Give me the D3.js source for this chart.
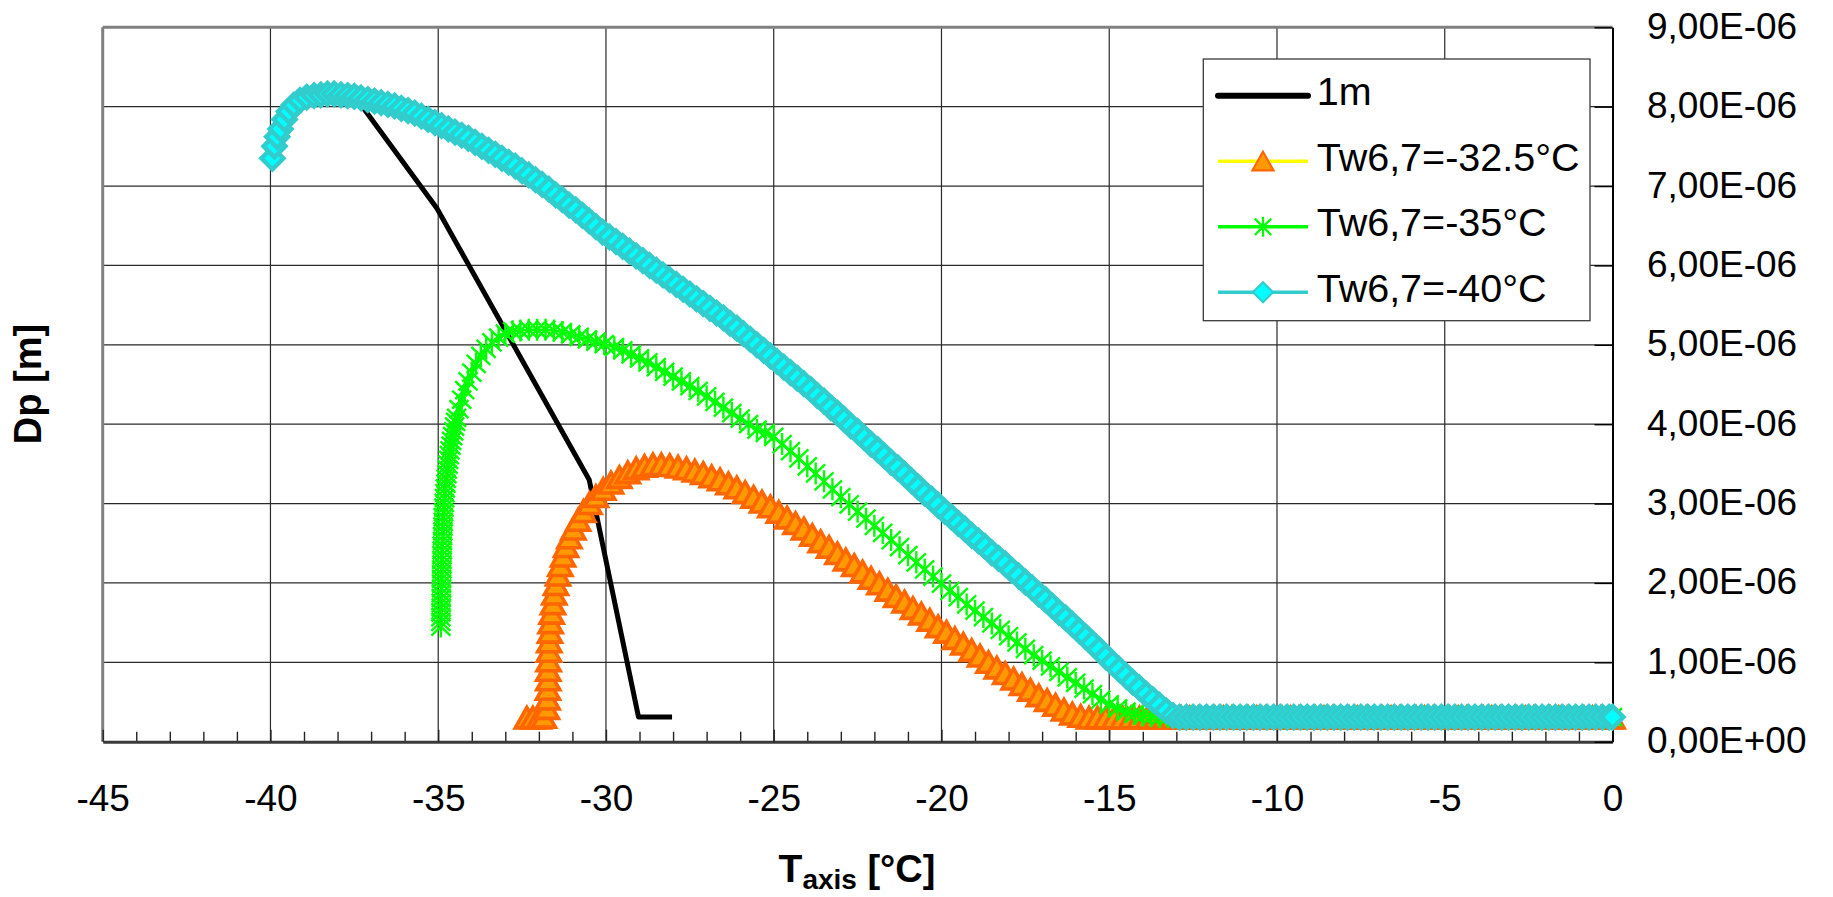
<!DOCTYPE html>
<html>
<head>
<meta charset="utf-8">
<script src="https://cdn.jsdelivr.net/npm/d3@7"></script>
<style>
  html, body { margin: 0; padding: 0; background: #fff; }
  svg { display: block; }
  text { font-family: "Liberation Sans", Arial, sans-serif; fill: #000; }
</style>
</head>
<body>
<svg id="chart" width="1833" height="897"></svg>
<script>
// Particle diameter Dp (in units of 1e-6 m) against axis temperature T (°C)

const seriesNames = ["1m", "Tw6,7=-32.5°C", "Tw6,7=-35°C", "Tw6,7=-40°C"];

const xMajorTicks = [-45, -40, -35, -30, -25, -20, -15, -10, -5, 0];
const xMinorTicks = d3.range(-45, 1).filter(v => v % 5 !== 0);
const yTicks = [0, 1, 2, 3, 4, 5, 6, 7, 8, 9];

// "1m" reference line
const line1m = [[-37.4, 8.08], [-35.04, 6.72], [-30.5, 3.30], [-29.03, 0.31], [-28.03, 0.31]];

// Tw6,7 = -32.5 °C
const tw325 = [
  [-32.36,0.30],[-32.18,0.30],[-32.0,0.30],[-31.85,0.31],[-31.76,0.42],[-31.74,0.54],[-31.73,0.66],
  [-31.72,0.78],[-31.72,0.90],[-31.71,1.02],[-31.70,1.14],[-31.69,1.26],[-31.67,1.38],[-31.65,1.50],
  [-31.62,1.62],[-31.58,1.74],[-31.54,1.86],[-31.49,1.98],[-31.43,2.10],[-31.36,2.22],[-31.28,2.34],
  [-31.19,2.46],[-31.09,2.57],[-30.97,2.68],[-30.83,2.79],[-30.67,2.90],[-30.49,3.00],[-30.30,3.09],
  [-30.08,3.18],[-29.85,3.26],[-29.60,3.33],[-29.35,3.39],[-29.10,3.44],[-28.85,3.47],[-28.60,3.49],
  [-28.35,3.49],[-28.10,3.48],[-27.85,3.46],[-27.60,3.44],[-27.35,3.41],[-27.10,3.38],[-26.85,3.34],
  [-26.60,3.30],[-26.35,3.25],[-26.10,3.20],[-25.85,3.14],[-25.60,3.08],[-25.35,3.02],[-25.10,2.96],
  [-24.85,2.89],[-24.60,2.82],[-24.35,2.75],[-24.10,2.68],[-23.85,2.60],[-23.60,2.52],[-23.35,2.45],
  [-23.10,2.37],[-22.85,2.29],[-22.60,2.22],[-22.35,2.14],[-22.10,2.06],[-21.85,1.99],[-21.60,1.91],
  [-21.35,1.83],[-21.10,1.76],[-20.85,1.68],[-20.60,1.61],[-20.35,1.53],[-20.10,1.45],[-19.85,1.38],
  [-19.60,1.30],[-19.35,1.23],[-19.10,1.15],[-18.85,1.08],[-18.60,1.00],[-18.35,0.93],[-18.10,0.86],
  [-17.85,0.79],[-17.60,0.72],[-17.35,0.65],[-17.10,0.58],[-16.85,0.52],[-16.60,0.46],[-16.35,0.40],
  [-16.10,0.35],[-15.85,0.32],[-15.60,0.30],
  [-15.35,0.30],[-15.1,0.30],[-14.85,0.30],[-14.6,0.30],[-14.35,0.30],[-14.1,0.30],[-13.85,0.30],
  [-13.6,0.30],[-13.35,0.30],[-13.1,0.30],[-12.85,0.30],[-12.6,0.30],[-12.35,0.30],[-12.1,0.30],
  [-11.85,0.30],[-11.6,0.30],[-11.35,0.30],[-11.1,0.30],[-10.85,0.30],[-10.6,0.30],[-10.35,0.30],
  [-10.1,0.30],[-9.85,0.30],[-9.6,0.30],[-9.35,0.30],[-9.1,0.30],[-8.85,0.30],[-8.6,0.30],
  [-8.35,0.30],[-8.1,0.30],[-7.85,0.30],[-7.6,0.30],[-7.35,0.30],[-7.1,0.30],[-6.85,0.30],
  [-6.6,0.30],[-6.35,0.30],[-6.1,0.30],[-5.85,0.30],[-5.6,0.30],[-5.35,0.30],[-5.1,0.30],
  [-4.85,0.30],[-4.6,0.30],[-4.35,0.30],[-4.1,0.30],[-3.85,0.30],[-3.6,0.30],[-3.35,0.30],
  [-3.1,0.30],[-2.85,0.30],[-2.6,0.30],[-2.35,0.30],[-2.1,0.30],[-1.85,0.30],[-1.6,0.30],
  [-1.35,0.30],[-1.1,0.30],[-0.85,0.30],[-0.6,0.30],[-0.35,0.30],[-0.1,0.30],[0,0.30]
];

// Tw6,7 = -35 °C
const tw35 = [
  [-34.92,1.45],[-34.92,1.51],[-34.92,1.57],[-34.92,1.63],[-34.91,1.69],[-34.91,1.75],[-34.91,1.81],
  [-34.91,1.87],[-34.90,1.93],[-34.90,1.99],[-34.90,2.05],[-34.90,2.11],[-34.89,2.17],[-34.89,2.23],
  [-34.89,2.29],[-34.89,2.35],[-34.88,2.41],[-34.88,2.47],[-34.87,2.53],[-34.87,2.59],[-34.86,2.65],
  [-34.86,2.71],[-34.85,2.77],[-34.85,2.83],[-34.84,2.89],[-34.83,2.95],[-34.82,3.01],[-34.81,3.07],
  [-34.80,3.13],[-34.79,3.19],[-34.77,3.25],[-34.76,3.31],[-34.74,3.37],[-34.73,3.43],[-34.71,3.49],
  [-34.69,3.55],[-34.67,3.61],[-34.65,3.67],[-34.62,3.73],[-34.60,3.79],[-34.57,3.85],[-34.54,3.91],
  [-34.51,3.97],[-34.48,4.03],[-34.45,4.08],[-34.38,4.19],[-34.30,4.31],[-34.21,4.43],[-34.11,4.54],
  [-34.00,4.65],[-33.87,4.76],[-33.73,4.86],[-33.57,4.95],[-33.40,5.03],[-33.20,5.09],[-33.00,5.14],
  [-32.78,5.17],[-32.55,5.18],[-32.30,5.19],[-32.05,5.19],[-31.80,5.19],[-31.55,5.18],[-31.30,5.16],
  [-31.05,5.13],[-30.80,5.10],[-30.55,5.07],[-30.30,5.04],[-30.05,5.01],[-29.75,4.97],[-29.50,4.93],
  [-29.25,4.88],[-29.00,4.83],[-28.75,4.78],[-28.50,4.72],[-28.25,4.66],[-28.00,4.60],[-27.75,4.54],
  [-27.50,4.48],[-27.25,4.42],[-27.00,4.35],[-26.75,4.28],[-26.50,4.21],[-26.25,4.14],[-26.00,4.07],
  [-25.75,4.00],[-25.50,3.93],[-25.25,3.89],[-25.00,3.84],[-24.75,3.75],[-24.50,3.66],[-24.25,3.57],
  [-24.00,3.47],[-23.75,3.38],[-23.50,3.28],[-23.25,3.18],[-23.00,3.08],[-22.75,2.99],[-22.50,2.90],
  [-22.25,2.81],[-22.00,2.72],[-21.75,2.63],[-21.50,2.54],[-21.25,2.45],[-21.00,2.35],[-20.75,2.26],
  [-20.50,2.17],[-20.25,2.08],[-20.00,1.99],[-19.75,1.90],[-19.50,1.82],[-19.25,1.73],[-19.00,1.65],
  [-18.75,1.57],[-18.50,1.49],[-18.25,1.41],[-18.00,1.33],[-17.75,1.25],[-17.50,1.17],[-17.25,1.09],
  [-17.00,1.02],[-16.75,0.95],[-16.50,0.88],[-16.25,0.81],[-16.00,0.74],[-15.75,0.67],[-15.50,0.60],
  [-15.25,0.53],[-15.00,0.47],[-14.75,0.42],[-14.50,0.38],[-14.25,0.35],[-14.00,0.33],[-13.75,0.32],
  [-13.5,0.31],[-13.25,0.31],[-13,0.31],[-12.75,0.31],[-12.5,0.31],[-12.25,0.31],[-12,0.31],
  [-11.75,0.31],[-11.5,0.31],[-11.25,0.31],[-11,0.31],[-10.75,0.31],[-10.5,0.31],[-10.25,0.31],
  [-10,0.31],[-9.75,0.31],[-9.5,0.31],[-9.25,0.31],[-9,0.31],[-8.75,0.31],[-8.5,0.31],
  [-8.25,0.31],[-8,0.31],[-7.75,0.31],[-7.5,0.31],[-7.25,0.31],[-7,0.31],[-6.75,0.31],
  [-6.5,0.31],[-6.25,0.31],[-6,0.31],[-5.75,0.31],[-5.5,0.31],[-5.25,0.31],[-5,0.31],
  [-4.75,0.31],[-4.5,0.31],[-4.25,0.31],[-4,0.31],[-3.75,0.31],[-3.5,0.31],[-3.25,0.31],
  [-3,0.31],[-2.75,0.31],[-2.5,0.31],[-2.25,0.31],[-2,0.31],[-1.75,0.31],[-1.5,0.31],
  [-1.25,0.31],[-1,0.31],[-0.75,0.31],[-0.5,0.31],[-0.25,0.31],[0,0.31]
];

// Tw6,7 = -40 °C
const tw40 = [
  [-39.94,7.35],[-39.88,7.50],[-39.80,7.62],[-39.70,7.72],[-39.58,7.84],[-39.45,7.94],[-39.30,8.02],
  [-39.12,8.08],[-38.92,8.12],[-38.70,8.14],[-38.50,8.15],[-38.30,8.16],[-38.10,8.16],[-37.90,8.15],
  [-37.70,8.14],[-37.50,8.13],[-37.30,8.11],[-37.10,8.09],[-36.90,8.07],[-36.70,8.05],[-36.50,8.03],
  [-36.30,8.01],[-36.10,7.98],[-35.90,7.95],[-35.70,7.92],[-35.50,7.88],[-35.30,7.84],[-35.10,7.80],
  [-34.90,7.76],[-34.70,7.72],[-34.50,7.68],[-34.30,7.64],[-34.10,7.60],[-33.90,7.55],[-33.70,7.50],
  [-33.50,7.45],[-33.30,7.40],[-33.10,7.35],[-32.90,7.30],[-32.70,7.25],[-32.50,7.19],[-32.30,7.14],
  [-32.10,7.08],[-31.90,7.02],[-31.70,6.96],[-31.50,6.89],[-31.30,6.83],[-31.10,6.76],[-30.90,6.70],
  [-30.70,6.63],[-30.50,6.56],[-30.30,6.49],[-30.10,6.42],[-29.90,6.36],[-29.70,6.30],[-29.50,6.24],
  [-29.30,6.18],[-29.10,6.12],[-28.90,6.06],[-28.70,6.00],[-28.50,5.94],[-28.30,5.88],[-28.10,5.82],
  [-27.90,5.76],[-27.70,5.70],[-27.50,5.64],[-27.30,5.58],[-27.10,5.52],[-26.90,5.46],[-26.70,5.40],
  [-26.50,5.34],[-26.30,5.27],[-26.10,5.21],[-25.90,5.14],[-25.70,5.07],[-25.50,5.00],[-25.30,4.93],
  [-25.10,4.86],[-24.90,4.79],[-24.70,4.72],[-24.50,4.65],[-24.30,4.58],[-24.10,4.51],[-23.90,4.44],
  [-23.70,4.36],[-23.50,4.29],[-23.30,4.21],[-23.10,4.14],[-22.90,4.06],[-22.70,3.98],[-22.50,3.91],
  [-22.30,3.83],[-22.10,3.75],[-21.90,3.68],[-21.70,3.60],[-21.50,3.52],[-21.30,3.45],[-21.10,3.37],
  [-20.90,3.29],[-20.70,3.21],[-20.50,3.13],[-20.30,3.06],[-20.10,2.98],[-19.90,2.90],[-19.70,2.83],
  [-19.50,2.75],[-19.30,2.68],[-19.10,2.60],[-18.90,2.53],[-18.70,2.46],[-18.50,2.38],[-18.30,2.31],
  [-18.10,2.24],[-17.90,2.16],[-17.70,2.09],[-17.50,2.01],[-17.30,1.94],[-17.10,1.86],[-16.90,1.79],
  [-16.70,1.71],[-16.50,1.63],[-16.30,1.56],[-16.10,1.48],[-15.90,1.40],[-15.70,1.32],[-15.50,1.24],
  [-15.30,1.16],[-15.10,1.07],[-14.90,0.99],[-14.70,0.91],[-14.50,0.83],[-14.30,0.75],[-14.10,0.68],
  [-13.90,0.60],[-13.70,0.53],[-13.50,0.46],[-13.30,0.39],[-13.10,0.33],
  [-12.9,0.31],[-12.7,0.31],[-12.5,0.31],[-12.3,0.31],[-12.1,0.31],[-11.9,0.31],[-11.7,0.31],
  [-11.5,0.31],[-11.3,0.31],[-11.1,0.31],[-10.9,0.31],[-10.7,0.31],[-10.5,0.31],[-10.3,0.31],
  [-10.1,0.31],[-9.9,0.31],[-9.7,0.31],[-9.5,0.31],[-9.3,0.31],[-9.1,0.31],[-8.9,0.31],
  [-8.7,0.31],[-8.5,0.31],[-8.3,0.31],[-8.1,0.31],[-7.9,0.31],[-7.7,0.31],[-7.5,0.31],
  [-7.3,0.31],[-7.1,0.31],[-6.9,0.31],[-6.7,0.31],[-6.5,0.31],[-6.3,0.31],[-6.1,0.31],
  [-5.9,0.31],[-5.7,0.31],[-5.5,0.31],[-5.3,0.31],[-5.1,0.31],[-4.9,0.31],[-4.7,0.31],
  [-4.5,0.31],[-4.3,0.31],[-4.1,0.31],[-3.9,0.31],[-3.7,0.31],[-3.5,0.31],[-3.3,0.31],
  [-3.1,0.31],[-2.9,0.31],[-2.7,0.31],[-2.5,0.31],[-2.3,0.31],[-2.1,0.31],[-1.9,0.31],
  [-1.7,0.31],[-1.5,0.31],[-1.3,0.31],[-1.1,0.31],[-0.9,0.31],[-0.7,0.31],[-0.5,0.31],
  [-0.3,0.31],[-0.1,0.31],[0,0.31]
];

// ---------- layout ----------
const plot = { left: 102.7, right: 1612.5, top: 27.3, bottom: 741.7 };
const svg = d3.select("#chart");

const x = d3.scaleLinear().domain([-45, 0]).range([plot.left, plot.right]);
const y = d3.scaleLinear().domain([0, 9]).range([plot.bottom, plot.top]);

// Excel-style scientific label, e.g. 9,00E-06
function sciLabel(v) {
  const s = (v * 1e-6).toExponential(2);
  const [m, e] = s.split("e");
  const ev = parseInt(e, 10);
  const es = (ev < 0 ? "-" : "+") + String(Math.abs(ev)).padStart(2, "0");
  return m.replace(".", ",") + "E" + es;
}

// ---------- grid ----------
const grid = svg.append("g");
grid.selectAll("line.v")
  .data(xMajorTicks.filter(t => t > -45 && t < 0))
  .join("line")
  .attr("x1", d => x(d)).attr("x2", d => x(d))
  .attr("y1", plot.top).attr("y2", plot.bottom)
  .attr("stroke", "#2a2a2a").attr("stroke-width", 1.2);
grid.selectAll("line.h")
  .data(yTicks.filter(t => t > 0 && t < 9))
  .join("line")
  .attr("x1", plot.left).attr("x2", plot.right)
  .attr("y1", d => y(d)).attr("y2", d => y(d))
  .attr("stroke", "#2a2a2a").attr("stroke-width", 1.3);

// plot frame (top and left)
svg.append("line")
  .attr("x1", plot.left).attr("x2", plot.right)
  .attr("y1", plot.top).attr("y2", plot.top)
  .attr("stroke", "#808080").attr("stroke-width", 3);
svg.append("line")
  .attr("x1", plot.left).attr("x2", plot.left)
  .attr("y1", plot.top).attr("y2", plot.bottom)
  .attr("stroke", "#808080").attr("stroke-width", 3);

// ---------- axes ----------
const xMinorAxis = d3.axisBottom(x).tickValues(xMinorTicks)
  .tickSizeInner(-10).tickSizeOuter(0).tickFormat("");
const gxm = svg.append("g").attr("transform", `translate(0,${plot.bottom})`).call(xMinorAxis);
gxm.select(".domain").remove();
gxm.selectAll(".tick line").attr("stroke", "#222").attr("stroke-width", 1.4);

const xAxis = d3.axisBottom(x).tickValues(xMajorTicks)
  .tickSizeInner(-12).tickSizeOuter(0).tickPadding(0)
  .tickFormat(d => String(d));
const gx = svg.append("g").attr("transform", `translate(0,${plot.bottom})`).call(xAxis);
gx.select(".domain").attr("stroke", "#3a3a3a").attr("stroke-width", 3);
gx.selectAll(".tick line").attr("stroke", "#222").attr("stroke-width", 1.4);
gx.selectAll(".tick text")
  .attr("dy", null).attr("y", 56.6)
  .attr("dominant-baseline", "central")
  .attr("font-size", 37).attr("fill", "#000")
  .style("font-family", "'Liberation Sans', Arial, sans-serif");

const yAxis = d3.axisRight(y).tickValues(yTicks)
  .tickSizeInner(-18).tickSizeOuter(0).tickPadding(34.5)
  .tickFormat(sciLabel);
const gy = svg.append("g").attr("transform", `translate(${plot.right},0)`).call(yAxis);
gy.select(".domain").attr("stroke", "#000").attr("stroke-width", 2);
gy.selectAll(".tick line").attr("stroke", "#000").attr("stroke-width", 1.4);
gy.selectAll(".tick text")
  .attr("dy", null).attr("y", -1.5)
  .attr("dominant-baseline", "central")
  .attr("font-size", 37).attr("fill", "#000")
  .style("font-family", "'Liberation Sans', Arial, sans-serif");

// ---------- markers ----------
// plot markers and the smaller legend swatches
const markerPath = {
  triangle: "M0,-10.5L11.5,10L-11.5,10Z",
  asterisk: "M0,-11V11M-9.5,-9L9.5,9M-9.5,9L9.5,-9",
  diamond: "M0,-11L11,0L0,11L-11,0Z"
};
const legendMarkerPath = {
  triangle: "M0,-9.5L10.5,9L-10.5,9Z",
  asterisk: "M0,-10V10M-8.2,-8.2L8.2,8.2M-8.2,8.2L8.2,-8.2",
  diamond: "M0,-10L10,0L0,10L-10,0Z"
};

const seriesStyle = [
  { data: line1m, line: "#000000", lineWidth: 5, marker: null },
  { data: tw325, line: "#FFFF00", lineWidth: 2.5, marker: "triangle", fill: "#FF9900", stroke: "#FF6600", sw: 3.6 },
  { data: tw35, line: "#00FF00", lineWidth: 2.5, marker: "asterisk", fill: "none", stroke: "#00FF00", sw: 2.4 },
  { data: tw40, line: "#33CCCC", lineWidth: 2.5, marker: "diamond", fill: "#00FFFF", stroke: "#33CCCC", sw: 4.4 }
];

const lineGen = d3.line().x(d => x(d[0])).y(d => y(d[1]));

seriesStyle.forEach(s => {
  const g = svg.append("g");
  g.append("path")
    .attr("d", lineGen(s.data))
    .attr("fill", "none")
    .attr("stroke", s.line)
    .attr("stroke-width", s.lineWidth)
    .attr("stroke-linejoin", "round");
  if (s.marker) {
    g.selectAll("path.m")
      .data(s.data)
      .join("path")
      .attr("class", "m")
      .attr("transform", d => `translate(${x(d[0])},${y(d[1])})`)
      .attr("d", markerPath[s.marker])
      .attr("fill", s.fill)
      .attr("stroke", s.stroke)
      .attr("stroke-width", s.sw)
      .attr("stroke-linejoin", "miter");
  }
});

// ---------- legend ----------
const legend = svg.append("g");
legend.append("rect")
  .attr("x", 1203.3).attr("y", 59)
  .attr("width", 386.7).attr("height", 261.7)
  .attr("fill", "#fff").attr("stroke", "#3a3a3a").attr("stroke-width", 1.3);

seriesStyle.forEach((s, i) => {
  const cy = 95.8 + i * 65.5;
  const row = legend.append("g");
  row.append("line")
    .attr("x1", 1218).attr("x2", 1308)
    .attr("y1", cy).attr("y2", cy)
    .attr("stroke", s.line)
    .attr("stroke-width", i === 0 ? 6 : 3.4)
    .attr("stroke-linecap", i === 0 ? "round" : "butt");
  if (s.marker) {
    row.append("path")
      .attr("transform", `translate(1263,${cy})`)
      .attr("d", legendMarkerPath[s.marker])
      .attr("fill", s.fill)
      .attr("stroke", s.stroke)
      .attr("stroke-width", 2.2);
  }
  row.append("text")
    .attr("x", 1316.7).attr("y", cy - 4.5)
    .attr("dominant-baseline", "central")
    .attr("font-size", 39.5)
    .text(seriesNames[i]);
});

// ---------- axis titles ----------
svg.append("text")
  .attr("transform", "translate(41,384) rotate(-90)")
  .attr("text-anchor", "middle")
  .attr("font-weight", "bold")
  .attr("font-size", 38)
  .text("Dp [m]");

const xt = svg.append("text")
  .attr("x", 857).attr("y", 882)
  .attr("text-anchor", "middle")
  .attr("font-weight", "bold")
  .style("white-space", "pre");
xt.append("tspan").attr("font-size", 39).text("T");
xt.append("tspan").attr("font-size", 28).attr("dy", 7).text("axis");
xt.append("tspan").attr("font-size", 38).attr("dy", -7).text(" [°C]");
</script>
</body>
</html>
